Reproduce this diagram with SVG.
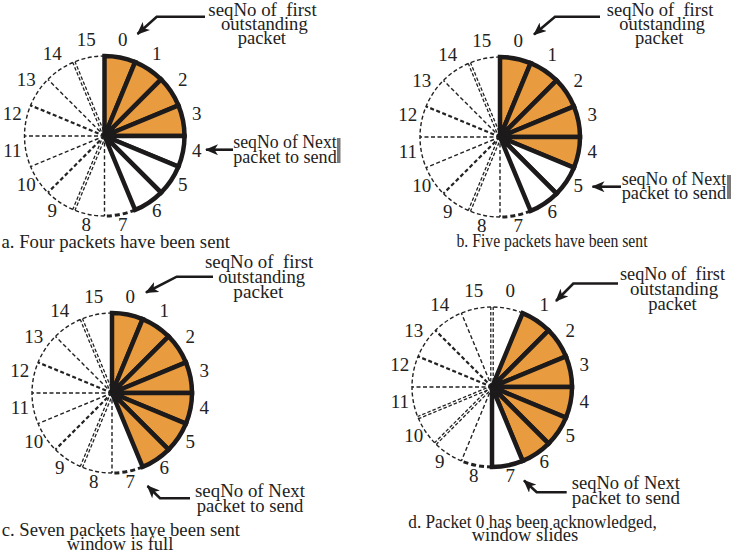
<svg xmlns="http://www.w3.org/2000/svg" width="742" height="558" viewBox="0 0 742 558" font-family="Liberation Serif, Times New Roman, serif">
<style>
text{font-family:"Liberation Serif","Times New Roman",serif;font-size:19px;fill:#222}
.n{text-anchor:middle}
.w{stroke:#1c1a1a;stroke-width:4.5}
.o{fill:#E99B3F}
.e{fill:#fff}
.ds{fill:none;stroke:#222;stroke-width:1.4;stroke-dasharray:4 2.5}
.dt{fill:none;stroke:#222;stroke-width:2.2;stroke-dasharray:4 2.5}
.dd{fill:none;stroke:#222;stroke-width:1.3;stroke-dasharray:3.5 2}
.ka{fill:none;stroke:#222;stroke-width:3;stroke-dasharray:5 3}
.ar{fill:none;stroke:#1c1a1a;stroke-width:2.6;marker-end:url(#ah)}
.gb{fill:#7a7a7a}
</style>
<defs>
<marker id="ah" markerUnits="userSpaceOnUse" viewBox="0 0 13 11" refX="12" refY="5.5" markerWidth="13" markerHeight="11" orient="auto">
<path d="M0,0 L13,5.5 L0,11 L3.5,5.5 Z" fill="#1c1a1a"/>
</marker>
<g id="nums">
<text class="n" x="18.3" y="-89.7">0</text>
<text class="n" x="52.2" y="-75.7">1</text>
<text class="n" x="78.2" y="-49.7">2</text>
<text class="n" x="92.2" y="-15.8">3</text>
<text class="n" x="92.2" y="20.8">4</text>
<text class="n" x="78.2" y="54.7">5</text>
<text class="n" x="52.2" y="80.7">6</text>
<text class="n" x="18.3" y="94.7">7</text>
<text class="n" x="-18.3" y="94.7">8</text>
<text class="n" x="-52.2" y="80.7">9</text>
<text class="n" x="-78.2" y="54.7">10</text>
<text class="n" x="-92.2" y="20.8">11</text>
<text class="n" x="-92.2" y="-15.8">12</text>
<text class="n" x="-78.2" y="-49.7">13</text>
<text class="n" x="-52.2" y="-75.7">14</text>
<text class="n" x="-18.3" y="-89.7">15</text>
</g>
<g id="dashABC">
<path class="ka" d="M30.61,73.91 A80,80 0 0 1 0,80"/>
<path class="ds" d="M0,80 A80,80 0 0 1 -80,0 A80,80 0 0 1 0,-80"/>
<path class="ds" d="M0,0 L0,80"/>
<path class="dd" d="M1.11,0.46 L-29.5,74.37 M-1.11,-0.46 L-31.72,73.45"/>
<path class="dt" d="M0,0 L-56.57,56.57"/>
<path class="ds" d="M0,0 L-73.91,30.61"/>
<path class="ds" d="M0,0 L-80,0"/>
<path class="dt" d="M0,0 L-73.91,-30.61"/>
<path class="ds" d="M0,0 L-56.57,-56.57"/>
<path class="dd" d="M1.11,-0.46 L-29.5,-74.37 M-1.11,0.46 L-31.72,-73.45"/>
</g>
</defs>

<g id="panel-a" transform="translate(104.5,136)">
<use href="#dashABC"/>
<path class="w o" d="M0,0 L0,-80 A80,80 0 0 1 30.61,-73.91 Z"/>
<path class="w o" d="M0,0 L30.61,-73.91 A80,80 0 0 1 56.57,-56.57 Z"/>
<path class="w o" d="M0,0 L56.57,-56.57 A80,80 0 0 1 73.91,-30.61 Z"/>
<path class="w o" d="M0,0 L73.91,-30.61 A80,80 0 0 1 80,0 Z"/>
<path class="w e" d="M0,0 L80,0 A80,80 0 0 1 73.91,30.61 Z"/>
<path class="w e" d="M0,0 L73.91,30.61 A80,80 0 0 1 56.57,56.57 Z"/>
<path class="w e" d="M0,0 L56.57,56.57 A80,80 0 0 1 30.61,73.91 Z"/>
<use href="#nums"/>
</g>

<g id="panel-b" transform="translate(500,137)">
<use href="#dashABC"/>
<path class="w o" d="M0,0 L0,-80 A80,80 0 0 1 30.61,-73.91 Z"/>
<path class="w o" d="M0,0 L30.61,-73.91 A80,80 0 0 1 56.57,-56.57 Z"/>
<path class="w o" d="M0,0 L56.57,-56.57 A80,80 0 0 1 73.91,-30.61 Z"/>
<path class="w o" d="M0,0 L73.91,-30.61 A80,80 0 0 1 80,0 Z"/>
<path class="w o" d="M0,0 L80,0 A80,80 0 0 1 73.91,30.61 Z"/>
<path class="w e" d="M0,0 L73.91,30.61 A80,80 0 0 1 56.57,56.57 Z"/>
<path class="w e" d="M0,0 L56.57,56.57 A80,80 0 0 1 30.61,73.91 Z"/>
<use href="#nums"/>
</g>

<g id="panel-c" transform="translate(112,393)">
<use href="#dashABC"/>
<path class="w o" d="M0,0 L0,-80 A80,80 0 0 1 30.61,-73.91 Z"/>
<path class="w o" d="M0,0 L30.61,-73.91 A80,80 0 0 1 56.57,-56.57 Z"/>
<path class="w o" d="M0,0 L56.57,-56.57 A80,80 0 0 1 73.91,-30.61 Z"/>
<path class="w o" d="M0,0 L73.91,-30.61 A80,80 0 0 1 80,0 Z"/>
<path class="w o" d="M0,0 L80,0 A80,80 0 0 1 73.91,30.61 Z"/>
<path class="w o" d="M0,0 L73.91,30.61 A80,80 0 0 1 56.57,56.57 Z"/>
<path class="w o" d="M0,0 L56.57,56.57 A80,80 0 0 1 30.61,73.91 Z"/>
<use href="#nums"/>
</g>

<g id="panel-d" transform="translate(492,387)">
<path class="ka" d="M0,80 A80,80 0 0 1 -30.61,73.91"/>
<path class="ds" d="M-30.61,73.91 A80,80 0 0 1 -73.91,-30.61 A80,80 0 0 1 30.61,-73.91"/>
<path class="ds" d="M0,0 L-30.61,73.91"/>
<path class="dd" d="M0.85,0.85 L-55.72,57.42 M-0.85,-0.85 L-57.42,55.72"/>
<path class="dd" d="M0.46,1.11 L-73.45,31.72 M-0.46,-1.11 L-74.37,29.5"/>
<path class="ds" d="M0,0 L-80,0"/>
<path class="dt" d="M0,0 L-73.91,-30.61"/>
<path class="dt" d="M0,0 L-56.57,-56.57"/>
<path class="ds" d="M0,0 L-30.61,-73.91"/>
<path class="dd" d="M1.2,0 L1.2,-80 M-1.2,0 L-1.2,-80"/>
<path class="w o" d="M0,0 L30.61,-73.91 A80,80 0 0 1 56.57,-56.57 Z"/>
<path class="w o" d="M0,0 L56.57,-56.57 A80,80 0 0 1 73.91,-30.61 Z"/>
<path class="w o" d="M0,0 L73.91,-30.61 A80,80 0 0 1 80,0 Z"/>
<path class="w o" d="M0,0 L80,0 A80,80 0 0 1 73.91,30.61 Z"/>
<path class="w o" d="M0,0 L73.91,30.61 A80,80 0 0 1 56.57,56.57 Z"/>
<path class="w o" d="M0,0 L56.57,56.57 A80,80 0 0 1 30.61,73.91 Z"/>
<path class="w e" d="M0,0 L30.61,73.91 A80,80 0 0 1 0,80 Z"/>
<use href="#nums"/>
</g>

<g id="label-a-first">
<text x="208.3" y="15.5" textLength="108.4" lengthAdjust="spacingAndGlyphs" xml:space="preserve">seqNo of  first</text>
<text x="221" y="29.5" textLength="86.7" lengthAdjust="spacingAndGlyphs">outstanding</text>
<text x="237.7" y="43.5" textLength="48.3" lengthAdjust="spacingAndGlyphs">packet</text>
</g>
<g id="label-a-next">
<rect class="gb" x="337" y="138" width="3.5" height="25"/>
<text x="233.3" y="148" textLength="103.4" lengthAdjust="spacingAndGlyphs">seqNo of Next</text>
<text x="233.3" y="162.5" textLength="103.4" lengthAdjust="spacingAndGlyphs">packet to send</text>
</g>
<g id="caption-a">
<text x="1.5" y="248" textLength="228.5" lengthAdjust="spacingAndGlyphs">a. Four packets have been sent</text>
</g>

<g id="label-b-first">
<text x="606.7" y="15.5" textLength="106.6" lengthAdjust="spacingAndGlyphs" xml:space="preserve">seqNo of  first</text>
<text x="619.3" y="29.5" textLength="85.7" lengthAdjust="spacingAndGlyphs">outstanding</text>
<text x="635" y="43.5" textLength="48.3" lengthAdjust="spacingAndGlyphs">packet</text>
</g>
<g id="label-b-next">
<rect class="gb" x="727" y="175" width="4" height="24"/>
<text x="621.7" y="184.5" textLength="104.5" lengthAdjust="spacingAndGlyphs">seqNo of Next</text>
<text x="621.7" y="199" textLength="104.5" lengthAdjust="spacingAndGlyphs">packet to send</text>
</g>
<g id="caption-b">
<text x="456.5" y="247" textLength="191" lengthAdjust="spacingAndGlyphs">b. Five packets have been sent</text>
</g>

<g id="label-c-first">
<text x="205" y="268.3" textLength="108.3" lengthAdjust="spacingAndGlyphs" xml:space="preserve">seqNo of  first</text>
<text x="218.3" y="283.3" textLength="86.7" lengthAdjust="spacingAndGlyphs">outstanding</text>
<text x="233.3" y="298.3" textLength="50" lengthAdjust="spacingAndGlyphs">packet</text>
</g>
<g id="label-c-next">
<text x="195" y="496.5" textLength="110" lengthAdjust="spacingAndGlyphs">seqNo of Next</text>
<text x="196.7" y="511.5" textLength="106.6" lengthAdjust="spacingAndGlyphs">packet to send</text>
</g>
<g id="caption-c">
<text x="1.7" y="536" textLength="238.3" lengthAdjust="spacingAndGlyphs">c. Seven packets have been sent</text>
<text x="66.7" y="549.5" textLength="106.6" lengthAdjust="spacingAndGlyphs">window is full</text>
</g>

<g id="label-d-first">
<text x="620" y="280" textLength="105" lengthAdjust="spacingAndGlyphs" xml:space="preserve">seqNo of  first</text>
<text x="630" y="295" textLength="88.3" lengthAdjust="spacingAndGlyphs">outstanding</text>
<text x="648.3" y="310" textLength="48.4" lengthAdjust="spacingAndGlyphs">packet</text>
</g>
<g id="label-d-next">
<text x="571.7" y="488.5" textLength="108.3" lengthAdjust="spacingAndGlyphs">seqNo of Next</text>
<text x="571.7" y="503.5" textLength="108.3" lengthAdjust="spacingAndGlyphs">packet to send</text>
</g>
<g id="caption-d">
<text x="408.3" y="527.5" textLength="248.4" lengthAdjust="spacingAndGlyphs">d. Packet 0 has been acknowledged,</text>
<text x="471.7" y="541" textLength="106.6" lengthAdjust="spacingAndGlyphs">window slides</text>
</g>

<g id="connectors">
<path class="ar" d="M205,16.7 L156.7,16.7 L137.5,34"/>
<path class="ar" d="M233,149.7 L206,149.7"/>
<path class="ar" d="M600,16.7 L555,16.7 L534,34.5"/>
<path class="ar" d="M621,186.7 L592.5,186.7"/>
<path class="ar" d="M213,276.7 L176.7,276.7 L146,292.5"/>
<path class="ar" d="M190,498.3 L160,498.3 L147.5,486"/>
<path class="ar" d="M618,283.5 L573.3,283.5 L556,301"/>
<path class="ar" d="M566.7,492.3 L536.7,492.3 L524,480.5"/>
</g>
</svg>
